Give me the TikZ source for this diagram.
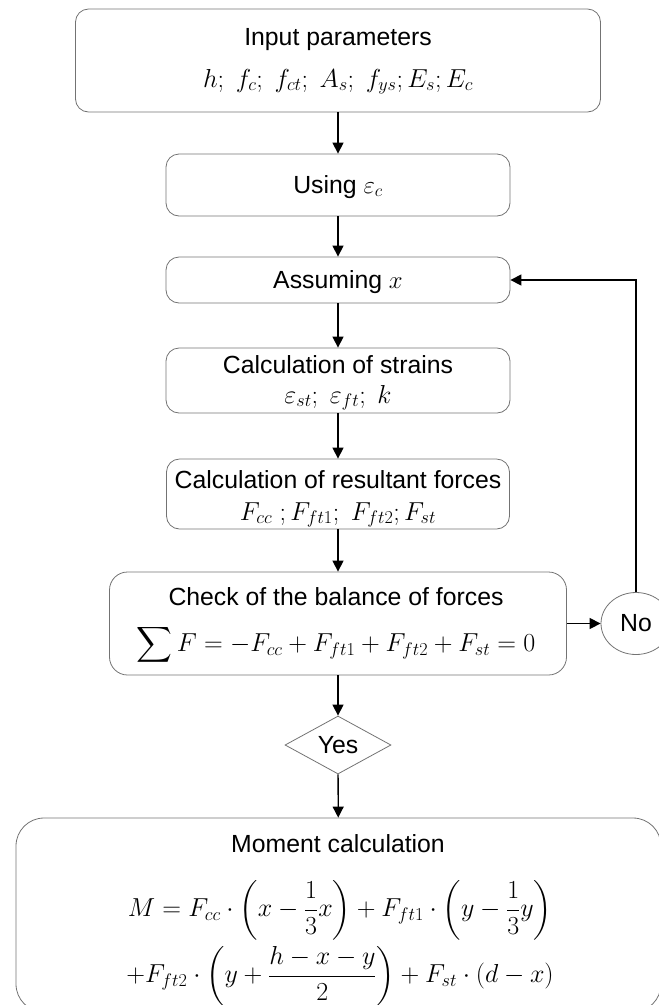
\RequirePackage{fix-cm}
\documentclass[tikz,border=0pt]{standalone}
\usepackage{amsmath}
\usepackage{fontspec}
\setmainfont{Liberation Sans}
\usetikzlibrary{arrows.meta,shapes.geometric}
\begin{document}
\begin{tikzpicture}[x=1pt,y=-1pt,
  box/.style={draw=black!55, line width=0.8pt, rounded corners=13pt, inner sep=0pt},
  txt/.style={inner sep=0pt, font=\fontsize{24.8}{28}\selectfont},
  mth/.style={inner sep=0pt, font=\fontsize{26}{30}\selectfont},
  arr/.style={-{Triangle[length=11pt,width=11pt]}, line width=1.3pt, black}]
\clip (0,0) rectangle (659,1005);
% boxes
\node[box, minimum width=525pt, minimum height=103pt] (top) at (338,60.5) {};
\node[box, minimum width=344pt, minimum height=62pt] (using) at (338,185) {};
\node[box, minimum width=344pt, minimum height=46pt] (assume) at (338,280) {};
\node[box, minimum width=344pt, minimum height=65pt] (strains) at (338,380.5) {};
\node[box, minimum width=343pt, minimum height=70pt] (forces) at (338,494) {};
\node[box, rounded corners=18pt, minimum width=457pt, minimum height=103pt] (check) at (338,623.5) {};
\node[draw=black!55, line width=0.8pt, ellipse, minimum width=70pt, minimum height=62pt, inner sep=0pt, font=\fontsize{24.8}{28}\selectfont] (no) at (636,623.5) {No};
\node[draw=black!55, line width=0.8pt, diamond, aspect=1.83, minimum width=106pt, minimum height=58pt, inner sep=0pt, font=\fontsize{24.8}{28}\selectfont] (yes) at (338,745) {Yes};
\node[box, rounded corners=28pt, minimum width=645pt, minimum height=194pt] (moment) at (338.5,915) {};
% texts
\node[txt, anchor=base] (topA) at (338,45) {Input parameters};
\node[mth, anchor=base] (topB) at (338,87) {$h;\ f_c;\ f_{ct};\ A_s;\ f_{ys}; E_s; E_c$};
\node[txt, anchor=base] (usingA) at (338,193) {Using $\varepsilon_c$};
\node[txt, anchor=base] (assumeA) at (338,288) {Assuming $x$};
\node[txt, anchor=base] (strainsA) at (338,373) {Calculation of strains};
\node[mth, anchor=base] (strainsB) at (338,403) {$\varepsilon_{st};\ \varepsilon_{ft};\ k$};
\node[txt, anchor=base] (forcesA) at (338,488) {Calculation of resultant forces};
\node[mth, anchor=base] (forcesB) at (338,520) {$F_{cc}\ ; F_{ft1};\ F_{ft2}; F_{st}$};
\node[txt, anchor=base] (checkA) at (336,605) {Check of the balance of forces};
\node[mth] (checkB) at (336,645) {$\displaystyle\sum F = -F_{cc} + F_{ft1} + F_{ft2} + F_{st} = 0$};
\node[txt, anchor=base] (momentA) at (338,852) {Moment calculation};
\node[mth] (momentB) at (340,910) {$M = F_{cc}\cdot\left(x-\dfrac{1}{3}x\right)+F_{ft1}\cdot\left(y-\dfrac{1}{3}y\right)$};
\node[mth] (momentC) at (340,976) {$+F_{ft2}\cdot\left(y+\dfrac{h-x-y}{2}\right)+F_{st}\cdot(d-x)$};
% connectors
\draw[arr] (top) -- (using);
\draw[arr] (using) -- (assume);
\draw[arr] (assume) -- (strains);
\draw[arr] (strains) -- (forces);
\draw[arr] (forces) -- (check);
\draw[arr] (check) -- (no);
\draw[arr] (check) -- (yes);
\draw[arr] (yes) -- (moment);
\draw[arr] (no.north) -- (no.north |- assume.east) -- (assume.east);
\end{tikzpicture}
\end{document}
